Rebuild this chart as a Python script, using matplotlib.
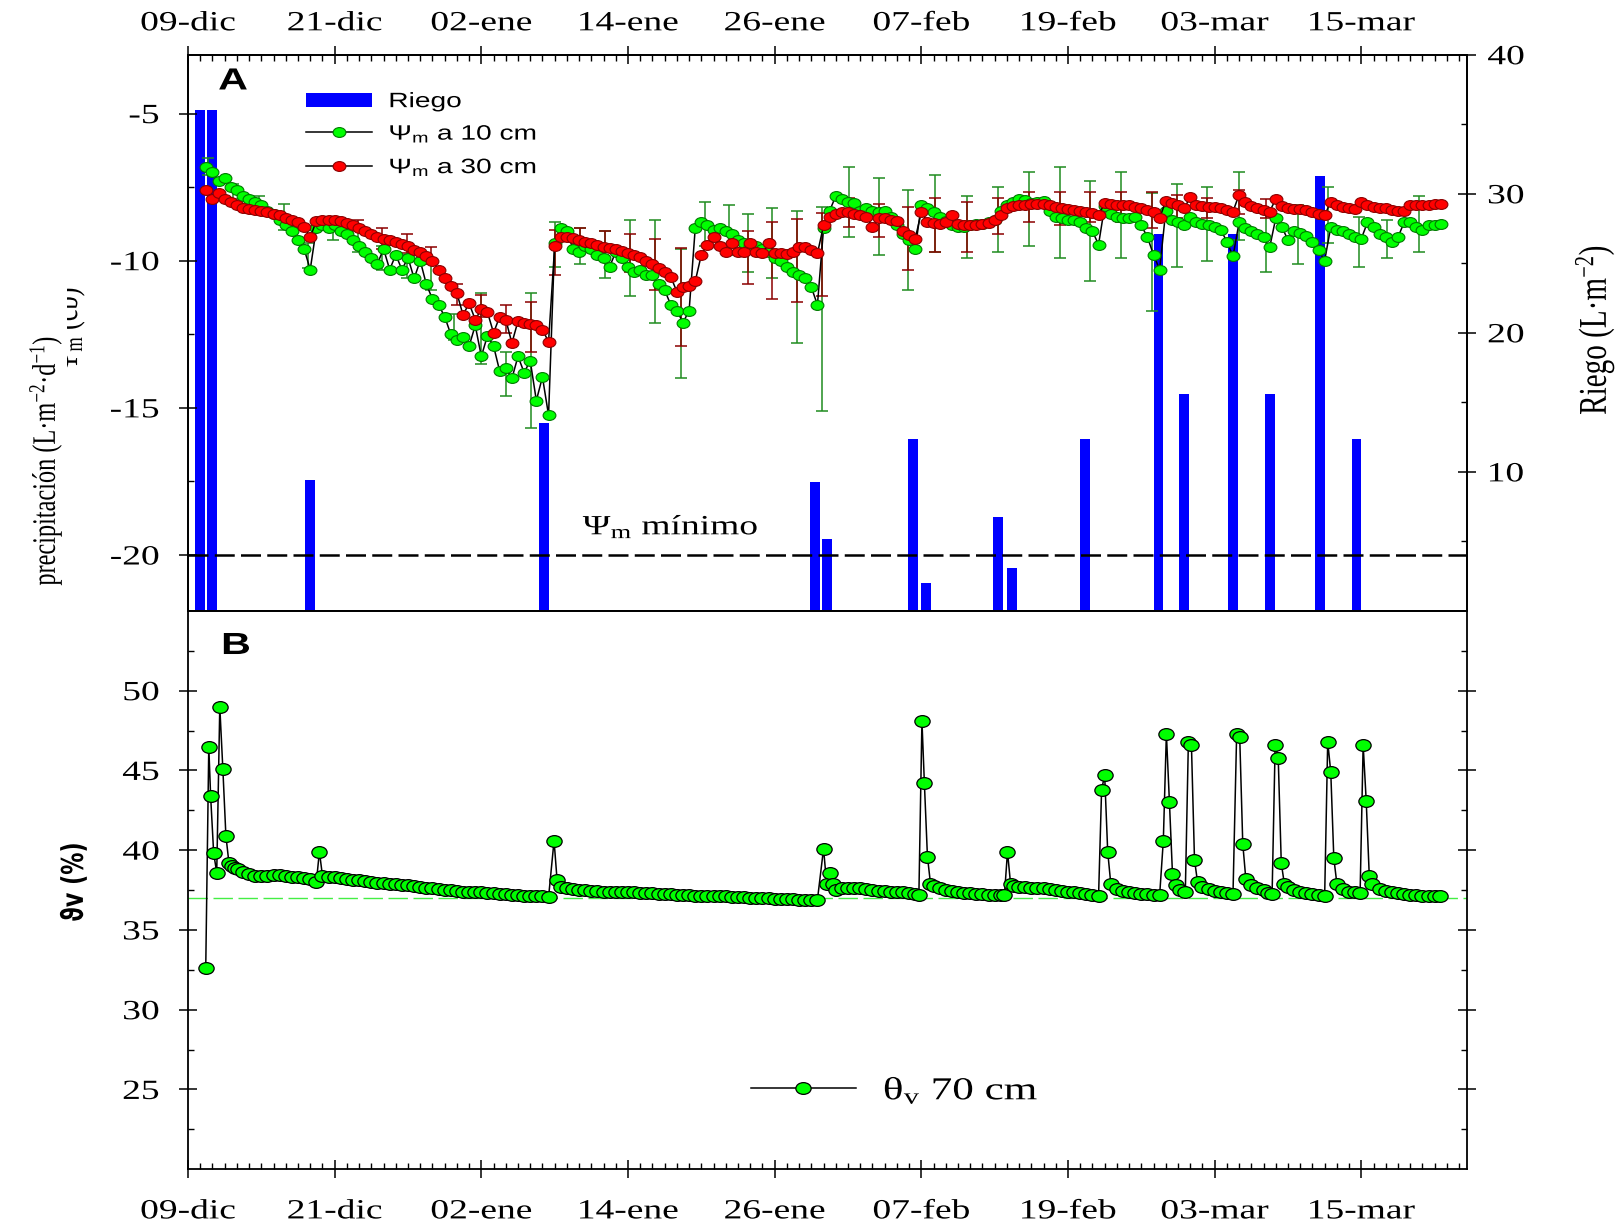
import numpy as np
import matplotlib
matplotlib.use('Agg')
import matplotlib.pyplot as plt
from matplotlib.path import Path
from matplotlib.patches import Rectangle
from matplotlib.transforms import Affine2D
from matplotlib.patheffects import AbstractPathEffect
from matplotlib.ticker import MultipleLocator, FixedLocator
from matplotlib.text import Text

plt.rcParams['font.family'] = 'Liberation Serif'
plt.rcParams['axes.unicode_minus'] = False
plt.rcParams['mathtext.fontset'] = 'custom'
plt.rcParams['mathtext.rm'] = 'Liberation Serif'
plt.rcParams['mathtext.it'] = 'Liberation Serif:italic'
plt.rcParams['mathtext.sf'] = 'Liberation Sans'

# days counted from 09-dic
day_ticks = [0, 12, 24, 36, 48, 60, 72, 84, 96]
day_labels = ['09-dic', '21-dic', '02-ene', '14-ene', '26-ene',
              '07-feb', '19-feb', '03-mar', '15-mar']

# irrigation events (L m-2)
riego_day = [0.95, 1.95, 9.95, 29.1, 51.3, 52.3, 59.3, 60.4, 66.3, 67.4,
             73.4, 79.4, 81.5, 85.5, 88.5, 92.6, 95.6]
riego_val = [36, 36, 9.4, 13.5, 9.3, 5.2, 12.4, 2.0, 6.75, 3.1,
             12.4, 27.1, 15.6, 27.1, 15.6, 31.3, 12.4]

# matric potential, twice a day from day 1.5 to 102.5
psi_day = np.arange(1.5, 102.75, 0.5)
psi10 = [
    -6.8, -7.0, -7.3, -7.2, -7.5, -7.6, -7.8, -7.9, -8.0, -8.1,
    -8.3, -8.4, -8.6, -8.8, -9.0, -9.3, -9.6, -10.3, -8.9, -8.8,
    -8.9, -8.8, -9.0, -9.1, -9.3, -9.5, -9.7, -9.9, -10.1, -9.6,
    -10.3, -9.8, -10.3, -9.9, -10.6, -10.0, -10.8, -11.3, -11.5, -11.9,
    -12.5, -12.7, -12.6, -12.9, -12.2, -13.25, -12.55, -12.9, -13.75, -13.65,
    -14.0, -13.25, -13.8, -13.4, -14.75, -13.95, -15.25, -9.4, -8.9, -9.0,
    -9.6, -9.7, -9.5, -9.6, -9.8, -9.9, -10.2, -9.7, -9.9, -10.2,
    -10.4, -10.3, -10.5, -10.5, -10.8, -11.0, -11.5, -11.7, -12.1, -11.7,
    -8.9, -8.7, -8.8, -8.95, -8.9, -9.0, -9.1, -9.3, -9.4, -9.5,
    -9.5, -9.6, -9.7, -9.9, -10.0, -10.2, -10.4, -10.5, -10.6, -10.9,
    -11.5, -8.9, -8.3, -7.8, -7.9, -8.0, -8.05, -8.3, -8.2, -8.3,
    -8.35, -8.3, -8.5, -8.8, -9.1, -9.3, -9.6, -8.1, -8.2, -8.35,
    -8.5, -8.65, -8.8, -8.85, -8.85, -8.8, -8.75, -8.75, -8.7, -8.6,
    -8.3, -8.1, -8.0, -7.9, -7.95, -8.05, -8.0, -7.98, -8.3, -8.5,
    -8.55, -8.6, -8.6, -8.7, -8.9, -9.0, -9.45, -8.15, -8.4, -8.5,
    -8.55, -8.55, -8.5, -8.8, -9.2, -9.8, -10.3, -8.3, -8.6, -8.7,
    -8.8, -8.5, -8.7, -8.75, -8.8, -8.85, -8.95, -9.35, -9.85, -8.7,
    -8.9, -9.0, -9.1, -9.2, -9.55, -8.55, -8.85, -9.3, -9.0, -9.05,
    -9.15, -9.35, -9.65, -10.0, -8.85, -8.95, -9.0, -9.1, -9.2, -9.25,
    -8.7, -8.85, -9.1, -9.2, -9.35, -9.2, -8.7, -8.7, -8.85, -8.95,
    -8.8, -8.8, -8.75,
]
psi30 = [
    -7.6, -7.9, -7.7, -7.9, -8.0, -8.1, -8.2, -8.25, -8.28, -8.3,
    -8.33, -8.4, -8.45, -8.55, -8.6, -8.7, -8.85, -9.2, -8.65, -8.62,
    -8.62, -8.63, -8.65, -8.72, -8.8, -8.9, -9.0, -9.1, -9.2, -9.25,
    -9.3, -9.35, -9.42, -9.5, -9.62, -9.72, -9.85, -10.0, -10.3, -10.6,
    -10.85, -11.1, -11.84, -11.45, -12.0, -11.65, -11.75, -12.45, -11.9, -12.0,
    -12.8, -12.05, -12.1, -12.15, -12.2, -12.35, -12.75, -9.5, -9.2, -9.18,
    -9.24, -9.3, -9.35, -9.4, -9.48, -9.52, -9.56, -9.6, -9.68, -9.75,
    -9.8, -9.86, -10.0, -10.1, -10.25, -10.4, -10.55, -11.05, -10.9, -10.85,
    -10.7, -9.8, -9.45, -9.2, -9.5, -9.7, -9.4, -9.72, -9.72, -9.4,
    -9.72, -9.74, -9.4, -9.75, -9.75, -9.76, -9.7, -9.55, -9.55, -9.62,
    -9.75, -8.8, -8.5, -8.4, -8.33, -8.35, -8.4, -8.45, -8.5, -8.85,
    -8.55, -8.55, -8.6, -8.65, -9.0, -9.13, -9.25, -8.35, -8.67, -8.73,
    -8.75, -8.7, -8.45, -8.75, -8.79, -8.8, -8.79, -8.76, -8.73, -8.6,
    -8.45, -8.2, -8.15, -8.12, -8.1, -8.08, -8.07, -8.08, -8.11, -8.17,
    -8.22, -8.25, -8.28, -8.3, -8.35, -8.38, -8.45, -8.05, -8.08, -8.11,
    -8.11, -8.11, -8.17, -8.22, -8.28, -8.35, -8.55, -7.97, -8.05, -8.12,
    -8.22, -7.85, -8.11, -8.14, -8.16, -8.19, -8.22, -8.27, -8.33, -7.75,
    -8.0, -8.15, -8.22, -8.28, -8.33, -7.9, -8.15, -8.2, -8.23, -8.25,
    -8.28, -8.33, -8.4, -8.45, -8.0, -8.11, -8.18, -8.22, -8.25, -8.0,
    -8.1, -8.16, -8.2, -8.22, -8.26, -8.3, -8.32, -8.11, -8.1, -8.1,
    -8.09, -8.08, -8.08,
]

# error bars: (day, lower, upper)
err10 = [
    (1.6, -7.1, -6.5), (3.7, -7.9, -7.4), (5.8, -8.2, -7.8), (7.85, -8.96, -8.08),
    (9.8, -10.26, -9.4), (11.85, -9.3, -8.5), (13.9, -9.7, -8.9), (15.9, -10.3, -9.5),
    (17.9, -10.6, -9.8), (19.9, -11.0, -10.1), (21.8, -12.7, -11.8), (24.0, -13.5, -11.1),
    (26.0, -14.6, -13.1), (28.05, -15.7, -11.1), (30.0, -10.2, -8.67), (32.05, -10.1, -8.9),
    (34.1, -10.6, -9.0), (36.15, -11.2, -8.6), (38.2, -12.1, -8.6), (40.3, -14.0, -9.6),
    (42.3, -9.5, -8.0), (44.3, -9.8, -8.1), (45.8, -10.4, -8.4), (47.8, -10.6, -8.2),
    (49.8, -12.8, -8.3), (51.9, -15.1, -8.16), (54.1, -9.2, -6.8), (56.5, -9.8, -7.2),
    (58.95, -11.0, -7.6), (61.1, -9.7, -7.1), (63.7, -9.9, -7.8), (66.3, -9.7, -7.5),
    (68.8, -9.5, -7.0), (71.35, -9.9, -6.8), (73.8, -10.7, -7.3), (76.3, -9.9, -7.0),
    (78.9, -11.7, -7.7), (80.9, -10.2, -7.4), (83.4, -10.0, -7.5), (86.0, -9.3, -7.0),
    (88.2, -10.4, -8.3), (90.8, -10.1, -8.1), (93.3, -9.4, -7.5), (95.8, -10.2, -8.5),
    (98.1, -9.9, -8.6), (100.7, -9.7, -7.8),
]
err30 = [
    (13.9, -9.0, -8.6), (15.9, -9.6, -8.9), (17.9, -9.75, -9.1), (19.9, -10.1, -9.55),
    (22.0, -11.5, -10.8), (24.0, -11.9, -11.15), (26.0, -12.45, -11.5), (28.05, -13.1, -11.4),
    (30.0, -10.5, -8.96), (32.05, -9.41, -8.9), (34.1, -9.52, -8.98), (36.15, -10.4, -9.1),
    (38.2, -11.0, -9.26), (40.3, -12.9, -9.58), (45.8, -10.8, -8.98), (47.8, -11.3, -8.67),
    (49.8, -11.4, -8.58), (51.9, -11.2, -8.39), (54.1, -8.87, -7.88), (56.5, -9.18, -8.07),
    (58.95, -10.3, -8.16), (61.1, -9.7, -7.88), (63.7, -9.7, -7.99), (66.3, -9.1, -7.88),
    (68.8, -8.67, -7.68), (71.35, -8.8, -7.68), (73.8, -8.67, -7.68), (76.3, -8.67, -7.68),
    (78.9, -8.9, -7.68), (80.9, -8.56, -7.77), (83.4, -8.56, -7.88), (86.0, -8.4, -7.58),
    (88.2, -8.56, -7.9),
]

# volumetric water content at 70 cm: (day, %)
theta70 = [
    (1.45, 32.6), (1.7, 46.5), (1.85, 43.4), (2.1, 39.8), (2.35, 38.6), (2.6, 49.0),
    (2.85, 45.1), (3.1, 40.9), (3.35, 39.2), (3.6, 39.0), (3.85, 38.9), (4.1, 38.8),
    (4.5, 38.65), (5.0, 38.5), (5.5, 38.4), (6.0, 38.4), (6.5, 38.4), (7.0, 38.45),
    (7.5, 38.45), (8.0, 38.4), (8.5, 38.35), (9.0, 38.3), (9.5, 38.25), (10.0, 38.2),
    (10.5, 38.0), (10.75, 39.9), (11.0, 38.4), (11.5, 38.35), (12.0, 38.3), (12.5, 38.25),
    (13.0, 38.2), (13.5, 38.15), (14.0, 38.1), (14.5, 38.05), (15.0, 38.0), (15.5, 37.95),
    (16.0, 37.95), (16.5, 37.9), (17.0, 37.85), (17.5, 37.8), (18.0, 37.8), (18.5, 37.75),
    (19.0, 37.7), (19.5, 37.65), (20.0, 37.6), (20.5, 37.55), (21.0, 37.5), (21.5, 37.5),
    (22.0, 37.45), (22.5, 37.4), (23.0, 37.4), (23.5, 37.35), (24.0, 37.35), (24.5, 37.3),
    (25.0, 37.3), (25.5, 37.25), (26.0, 37.25), (26.5, 37.2), (27.0, 37.2), (27.5, 37.15),
    (28.0, 37.15), (28.5, 37.1), (29.0, 37.1), (29.5, 37.05), (29.95, 40.6), (30.2, 38.1),
    (30.5, 37.7), (31.0, 37.6), (31.5, 37.55), (32.0, 37.5), (32.5, 37.5), (33.0, 37.45),
    (33.5, 37.45), (34.0, 37.4), (34.5, 37.4), (35.0, 37.4), (35.5, 37.35), (36.0, 37.35),
    (36.5, 37.35), (37.0, 37.3), (37.5, 37.3), (38.0, 37.3), (38.5, 37.25), (39.0, 37.25),
    (39.5, 37.25), (40.0, 37.2), (40.5, 37.2), (41.0, 37.2), (41.5, 37.15), (42.0, 37.15),
    (42.5, 37.15), (43.0, 37.1), (43.5, 37.1), (44.0, 37.1), (44.5, 37.05), (45.0, 37.05),
    (45.5, 37.05), (46.0, 37.0), (46.5, 37.0), (47.0, 37.0), (47.5, 37.0), (48.0, 36.95),
    (48.5, 36.95), (49.0, 36.95), (49.5, 36.95), (50.0, 36.9), (50.5, 36.9), (51.0, 36.9),
    (51.5, 36.9), (52.0, 40.1), (52.25, 37.9), (52.5, 38.6), (52.75, 37.9), (53.0, 37.5),
    (53.5, 37.6), (54.0, 37.65), (54.5, 37.6), (55.0, 37.6), (55.5, 37.55), (56.0, 37.5),
    (56.5, 37.45), (57.0, 37.45), (57.5, 37.4), (58.0, 37.35), (58.5, 37.35), (59.0, 37.3),
    (59.5, 37.25), (59.8, 37.2), (60.05, 48.1), (60.25, 44.2), (60.5, 39.6), (60.75, 37.9),
    (61.0, 37.75), (61.5, 37.6), (62.0, 37.5), (62.5, 37.45), (63.0, 37.35), (63.5, 37.3),
    (64.0, 37.3), (64.5, 37.25), (65.0, 37.25), (65.5, 37.2), (66.0, 37.2), (66.5, 37.2),
    (66.8, 37.2), (67.05, 39.9), (67.3, 37.9), (67.6, 37.75), (68.0, 37.7), (68.5, 37.7),
    (69.0, 37.65), (69.5, 37.6), (70.0, 37.6), (70.5, 37.55), (71.0, 37.5), (71.5, 37.45),
    (72.0, 37.4), (72.5, 37.35), (73.0, 37.3), (73.5, 37.25), (74.0, 37.2), (74.5, 37.1),
    (74.75, 43.8), (75.0, 44.7), (75.25, 39.9), (75.5, 37.9), (76.0, 37.55), (76.5, 37.45),
    (77.0, 37.35), (77.5, 37.3), (78.0, 37.25), (78.5, 37.25), (79.0, 37.2), (79.5, 37.2),
    (79.8, 40.6), (80.05, 47.3), (80.3, 43.0), (80.55, 38.5), (80.8, 37.8), (81.2, 37.5),
    (81.6, 37.4), (81.85, 46.8), (82.1, 46.6), (82.35, 39.4), (82.6, 38.0), (83.0, 37.7),
    (83.5, 37.55), (84.0, 37.45), (84.5, 37.35), (85.0, 37.3), (85.5, 37.25), (85.8, 47.3),
    (86.05, 47.1), (86.3, 40.4), (86.55, 38.2), (87.0, 37.8), (87.5, 37.6), (88.0, 37.5),
    (88.4, 37.3), (88.7, 37.25), (88.95, 46.6), (89.2, 45.8), (89.45, 39.2), (89.7, 37.9),
    (90.0, 37.7), (90.5, 37.5), (91.0, 37.4), (91.5, 37.3), (92.0, 37.25), (92.5, 37.2),
    (93.0, 37.1), (93.25, 46.8), (93.5, 44.9), (93.75, 39.5), (94.0, 37.9), (94.5, 37.55),
    (95.0, 37.4), (95.5, 37.35), (95.9, 37.3), (96.15, 46.6), (96.4, 43.1), (96.65, 38.4),
    (96.9, 37.9), (97.5, 37.55), (98.0, 37.45), (98.5, 37.35), (99.0, 37.3), (99.5, 37.25),
    (100.0, 37.2), (100.5, 37.2), (101.0, 37.15), (101.5, 37.15), (102.0, 37.1), (102.4, 37.1),
]


class WideText(AbstractPathEffect):
    """Draw text glyphs widened horizontally around an anchor."""

    def __init__(self, sx=1.35, anchor='center'):
        super().__init__()
        self.sx = sx
        self.anchor = anchor

    def draw_path(self, renderer, gc, tpath, affine, rgbFace=None):
        ext = tpath.transformed(affine).get_extents()
        if self.anchor == 'left':
            x0 = ext.x0
        elif self.anchor == 'right':
            x0 = ext.x1
        else:
            x0 = (ext.x0 + ext.x1) / 2
        wide = affine + Affine2D().translate(-x0, 0).scale(self.sx, 1).translate(x0, 0)
        renderer.draw_path(gc, tpath, wide, rgbFace)


ellipse = Path.unit_circle().transformed(Affine2D().scale(1.3, 1.0))

fig = plt.figure(figsize=(16.18, 12.27), dpi=100)
ax_a = fig.add_axes([0.1162, 0.5021, 0.7905, 0.4533])
ax_r = ax_a.twinx()
ax_b = fig.add_axes([0.1162, 0.0471, 0.7905, 0.4550])
ax_a.set_zorder(ax_r.get_zorder() + 1)
ax_a.patch.set_visible(False)

# --- panel A ---
bars = ax_r.bar(riego_day, riego_val, width=0.8, color='#0000ff', zorder=2)
ax_r.set_ylim(0, 40)

ax_a.axhline(-20, color='black', lw=1.8, dashes=(8, 2.5), zorder=1)

e10 = np.array(err10)
e30 = np.array(err30)
ax_a.errorbar(e10[:, 0], (e10[:, 1] + e10[:, 2]) / 2, yerr=(e10[:, 2] - e10[:, 1]) / 2,
              fmt='none', ecolor='#1f8c1f', elinewidth=1.1, capsize=4.2, capthick=1.1, zorder=2)
ax_a.errorbar(e30[:, 0], (e30[:, 1] + e30[:, 2]) / 2, yerr=(e30[:, 2] - e30[:, 1]) / 2,
              fmt='none', ecolor='#8b0000', elinewidth=1.1, capsize=4.2, capthick=1.1, zorder=2)

l10, = ax_a.plot(psi_day, psi10, color='black', lw=1.1, marker=ellipse, ms=9.2,
                 mfc='#00ff00', mec='#007800', mew=0.8, zorder=3)
l30, = ax_a.plot(psi_day, psi30, color='black', lw=1.1, marker=ellipse, ms=9.2,
                 mfc='#ff0000', mec='#8b0000', mew=0.8, zorder=4)

ax_a.text(32.3, -19.3, r'Ψ$_{\rm m}$ mínimo', fontsize=20, ha='left', va='baseline')

ax_a.set_xlim(0, 104.65)
ax_a.set_ylim(-21.9, -3.0)
ax_a.yaxis.set_major_locator(FixedLocator([-20, -15, -10, -5]))
ax_a.yaxis.set_minor_locator(FixedLocator([-17.5, -12.5, -7.5]))
ax_a.xaxis.set_ticks_position('top')
ax_a.set_xticks(day_ticks, day_labels)
ax_a.xaxis.set_minor_locator(MultipleLocator(1))
ax_a.tick_params(axis='x', which='major', direction='inout', length=13.5, width=1.1,
                 labelsize=20, pad=6.5, bottom=False, top=True)
ax_a.tick_params(axis='x', which='minor', direction='in', length=4.3, width=1.0,
                 bottom=False, top=True)
ax_a.tick_params(axis='y', which='major', direction='inout', length=13.5, width=1.1,
                 labelsize=20, pad=14, right=False)
ax_a.tick_params(axis='y', which='minor', direction='in', length=4.3, width=1.0, right=False)

ax_r.yaxis.set_major_locator(FixedLocator([10, 20, 30, 40]))
ax_r.yaxis.set_minor_locator(FixedLocator([5, 15, 25, 35]))
ax_r.tick_params(axis='y', which='major', direction='inout', length=13.5, width=1.1,
                 labelsize=20, pad=8)
ax_r.tick_params(axis='y', which='minor', direction='in', length=4.3, width=1.0)

ax_a.legend([bars, l10, l30],
            ['Riego', r'Ψ$_{\mathsf{m}}$ a 10 cm', r'Ψ$_{\mathsf{m}}$ a 30 cm'],
            loc='upper left', bbox_to_anchor=(0.0919, 0.9327), frameon=False,
            borderpad=0, borderaxespad=0, handlelength=3.2, handletextpad=0.8,
            labelspacing=0.6, numpoints=1,
            prop={'family': 'Liberation Sans', 'size': 15})

# --- panel B ---
theta_day, theta_val = zip(*theta70)
ax_b.axhline(37, color='#44ee44', lw=1.0, dashes=(14, 4), zorder=1)
lt, = ax_b.plot(theta_day, theta_val, color='black', lw=1.1, marker=ellipse, ms=11,
                mfc='#00ff00', mec='black', mew=0.9, zorder=3)

ax_b.set_xlim(0, 104.65)
ax_b.set_ylim(20, 55)
ax_b.yaxis.set_major_locator(FixedLocator([25, 30, 35, 40, 45, 50]))
ax_b.yaxis.set_minor_locator(FixedLocator([22.5, 27.5, 32.5, 37.5, 42.5, 47.5, 52.5]))
ax_b.set_xticks(day_ticks, day_labels)
ax_b.xaxis.set_minor_locator(MultipleLocator(1))
ax_b.tick_params(axis='x', which='major', direction='inout', length=13.5, width=1.1,
                 labelsize=20, pad=15, top=False)
ax_b.tick_params(axis='x', which='minor', direction='in', length=4.3, width=1.0, top=False)
ax_b.tick_params(axis='y', which='major', direction='inout', length=13.5, width=1.1,
                 labelsize=20, pad=14, left=True, right=True, labelright=False)
ax_b.tick_params(axis='y', which='minor', direction='in', length=4.3, width=1.0,
                 left=True, right=True)

ax_b.legend([lt], [r'θ$_{\rm v}$ 70 cm'], loc='center left',
            bbox_to_anchor=(0.44, 0.14), frameon=False, borderpad=0, borderaxespad=0,
            handlelength=3.3, handletextpad=0.85, numpoints=1,
            prop={'family': 'Liberation Serif', 'size': 23})

for ax in (ax_a, ax_r, ax_b):
    for sp in ax.spines.values():
        sp.set_linewidth(1.3)

# --- labels ---
fig.text(0.144, 0.9336, 'A', fontsize=22, fontweight='bold', family='Liberation Sans',
         ha='center', va='center')
fig.text(0.1459, 0.4735, 'B', fontsize=22, fontweight='bold', family='Liberation Sans',
         ha='center', va='center')

# older axis title, partly hidden behind the precipitation label
fig.text(75 / 1618, 1 - 329 / 1227, r'Ψ$_{\rm m}$ (cb)', fontsize=19, rotation=90,
         rotation_mode='anchor', ha='center', va='baseline', zorder=1)
fig.add_artist(Rectangle((0, 1 - 385 / 1227), 67 / 1618, 115 / 1227,
                         transform=fig.transFigure, facecolor='white',
                         edgecolor='none', zorder=2))

fig.text(0.0284, 0.6243, 'precipitación (L·m$^{-2}$·d$^{-1}$)', fontsize=17.5,
         rotation=90, ha='center', va='center', zorder=3)
fig.text(0.9858, 0.7311, 'Riego (L·m$^{-2}$)', fontsize=21, rotation=90,
         ha='center', va='center')
fig.text(0.046, 0.2812, 'ϑv (%)', fontsize=16, fontweight='bold', family='DejaVu Sans',
         rotation=90, ha='center', va='center')

fig.canvas.draw()
for t in fig.findobj(Text):
    t.set_path_effects([WideText(1.35, t.get_horizontalalignment())])

fig.savefig('out.png', dpi=100)
